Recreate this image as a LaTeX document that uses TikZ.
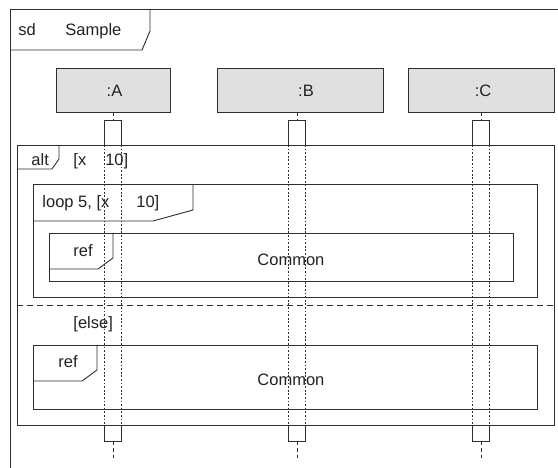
\documentclass[tikz,border=0pt]{standalone}
\usepackage{fontspec}
\setmainfont{Liberation Sans}
\definecolor{linec}{HTML}{2E2E2E}
\definecolor{headfill}{HTML}{E0E0E0}
\definecolor{textc}{HTML}{222222}
\begin{document}
\begin{tikzpicture}[x=1pt,y=-1pt,line width=0.9pt,color=linec,
  head/.style={draw=linec,fill=headfill,minimum width=#1,minimum height=44pt,inner sep=0pt},
  actbar/.style={draw=none,minimum width=16pt,minimum height=320pt,inner sep=0pt},
  txt/.style={font=\fontsize{16.5}{19}\selectfont,text=textc,inner sep=0pt,anchor=base west},
  lifedash/.style={dash pattern=on 4pt off 3pt},
  dots/.style={line width=0.7pt,dash pattern=on 1.8pt off 1.8pt},
  sep/.style={dash pattern=on 6pt off 4pt}]
\useasboundingbox (0,0) rectangle (558,468);
% outer frame
\draw (558,9) -- (10,9) -- (10,468);
\draw (10,50) -- (142,50) -- (150,31) -- (150,9);
\node[txt] (sd) at (18,36) {sd};
\node[txt] (sample) at (65,36) {Sample};
% lifeline heads
\node[head=114pt] (hA) at (113,90) {};
\node[head=166pt] (hB) at (300,90) {};
\node[head=146pt] (hC) at (481,90) {};
\node[txt,anchor=base] (tA) at (114.5,97) {:A};
\node[txt,anchor=base] (tB) at (306,97) {:B};
\node[txt,anchor=base] (tC) at (483,97) {:C};
% activation bars
\node[actbar] (actA) at (113,281) {};
\node[actbar] (actB) at (297,281) {};
\node[actbar] (actC) at (481,281) {};
\coordinate (endA) at (113,458);
\coordinate (endB) at (297,458);
\coordinate (endC) at (481,458);
\foreach \a/\h/\e in {actA/hA/endA,actB/hB/endB,actC/hC/endC}{
  \draw[lifedash] (\a.north |- \h.south) -- (\a.north);
  \draw[lifedash] (\a.south) -- (\e);
  \draw (\a.west |- 0,145) -- (\a.north west) -- (\a.north east) -- (\a.east |- 0,145);
  \draw (\a.west |- 0,425) -- (\a.south west) -- (\a.south east) -- (\a.east |- 0,425);
  \draw[dots] (\a.west |- 0,145) -- (\a.west |- 0,425);
  \draw[dots] (\a.east |- 0,145) -- (\a.east |- 0,425);
}
% alt fragment
\draw (17,145) rectangle (554,425);
\draw (17,169) -- (52,169) -- (59,159) -- (59,145);
\node[txt] (alt) at (31,166) {alt};
\node[txt] (g1) at (73,166) {[x\hspace{19pt}10]};
\draw[sep] (17,305) -- (554,305);
\node[txt] (g2) at (73,329) {[else]};
% loop fragment
\draw (33,184) rectangle (537,297);
\draw (33,221) -- (153,221) -- (193,210) -- (193,184);
\node[txt] (loop) at (42,208) {loop 5, [x\hspace{27pt}10]};
% ref 1
\draw (49,233) rectangle (513,281);
\draw (49,269) -- (98,269) -- (113,258) -- (113,233);
\node[txt] (ref1) at (73,257) {ref};
\node[txt] (common1) at (257,266) {Common};
% ref 2
\draw (33,345) rectangle (537,409);
\draw (33,381) -- (82,381) -- (97,370) -- (97,345);
\node[txt] (ref2) at (58,368) {ref};
\node[txt] (common2) at (257,386) {Common};
\end{tikzpicture}
\end{document}
